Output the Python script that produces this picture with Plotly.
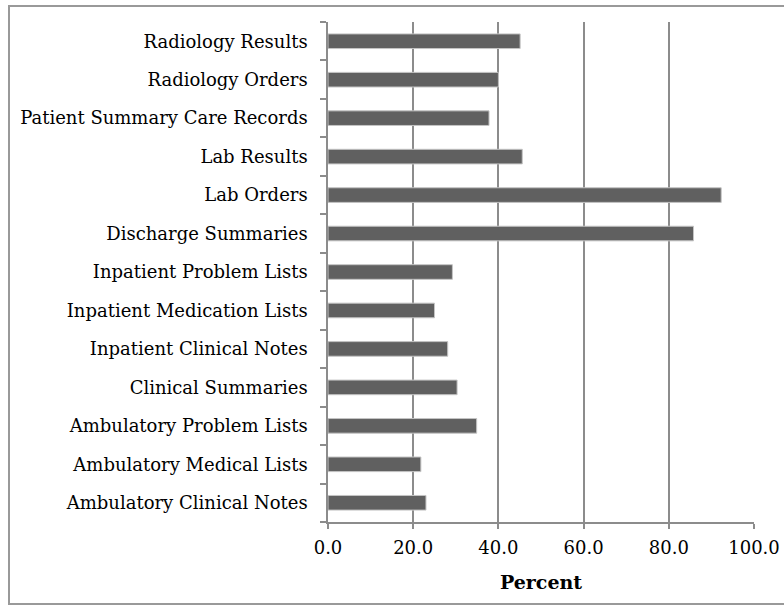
import plotly.graph_objects as go

# Categories listed bottom-to-top as they appear on the y axis
categories = [
    "Ambulatory Clinical Notes",
    "Ambulatory Medical Lists",
    "Ambulatory Problem Lists",
    "Clinical Summaries",
    "Inpatient Clinical Notes",
    "Inpatient Medication Lists",
    "Inpatient Problem Lists",
    "Discharge Summaries",
    "Lab Orders",
    "Lab Results",
    "Patient Summary Care Records",
    "Radiology Orders",
    "Radiology Results",
]
percent = [23.0, 21.8, 34.9, 30.3, 28.1, 25.0, 29.2, 85.8, 92.3, 45.6, 37.8, 40.0, 45.1]

x_ticks = [0, 20, 40, 60, 80, 100]
x_tick_text = ["0.0", "20.0", "40.0", "60.0", "80.0", "100.0"]

W, H = 784, 606
ML, MR, MT, MB = 328, 30, 22, 84
FONT = "DejaVu Serif"
GRID = "#8c8c8c"

fig = go.Figure(
    go.Bar(
        x=percent,
        y=categories,
        orientation="h",
        width=0.38,
        marker=dict(color="#606060", line=dict(color="#c4c4c4", width=1)),
        hoverinfo="x+y",
    )
)

pw = W - ML - MR
ph = H - MT - MB

fig.update_layout(
    width=W,
    height=H,
    margin=dict(l=ML, r=MR, t=MT, b=MB, autoexpand=False),
    paper_bgcolor="white",
    plot_bgcolor="white",
    showlegend=False,
    font=dict(family=FONT, size=18, color="#000000"),
    xaxis=dict(
        automargin=False,
        range=[0, 100],
        tickvals=x_ticks,
        ticktext=x_tick_text,
        showgrid=True,
        gridcolor=GRID,
        gridwidth=1.5,
        zeroline=False,
        showline=True,
        linecolor=GRID,
        linewidth=1.5,
        ticks="outside",
        ticklen=5,
        tickcolor=GRID,
        tickwidth=1.5,
        ticklabelstandoff=4,
        tickfont=dict(family=FONT, size=18),
        title=dict(text="<b>Percent</b>", font=dict(family=FONT, size=19), standoff=18),
    ),
    yaxis=dict(
        automargin=False,
        showgrid=False,
        showline=True,
        linecolor=GRID,
        linewidth=1.5,
        ticks="outside",
        tickson="boundaries",
        ticklen=6,
        tickcolor=GRID,
        tickwidth=1.5,
        ticklabelstandoff=15,
        tickfont=dict(family=FONT, size=18),
    ),
)

# Outer frame around the whole chart
fig.add_shape(
    type="rect",
    xref="paper",
    yref="paper",
    x0=(9 - ML) / pw,
    x1=(790 - ML) / pw,
    y0=(H - MB - 604) / ph,
    y1=(H - MB - 6) / ph,
    line=dict(color="#999999", width=2),
    fillcolor="rgba(0,0,0,0)",
    layer="below",
)

fig.write_html("out.html")
